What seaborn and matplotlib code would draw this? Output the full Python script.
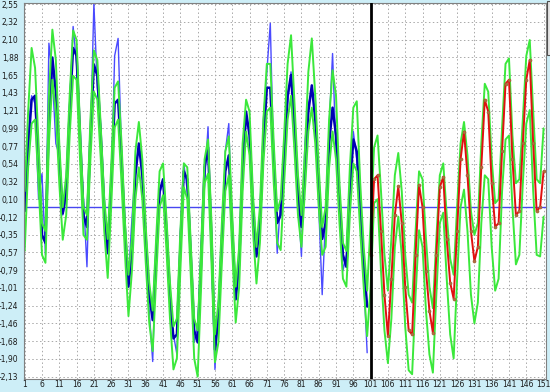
import numpy as np
import pandas as pd
import matplotlib
matplotlib.use("Agg")
import matplotlib.pyplot as plt
import seaborn as sns
from matplotlib.patches import Rectangle

# ---------------- data ----------------
actual = [
    0.05, 0.90, 1.40, 1.30, 0.10, 0.42, -0.60, 2.06, 1.65, 0.80,
    0.65, -0.10, 0.10, 1.30, 2.27, 1.80, 0.80, 0.10, -0.75, 0.80,
    2.56, 1.50, 1.00, -0.10, -0.55, 0.20, 1.90, 2.12, 0.70, -0.40,
    -0.90, -0.15, 0.50, 0.75, 0.50, -0.60, -1.30, -1.94, -0.50, 0.15,
    0.35, -0.40, -1.30, -1.60, -1.85, -0.30, 0.55, 0.20, -0.70, -1.70,
    -1.50, -0.50, 0.30, 1.01, -0.60, -2.04, -1.20, -0.60, 0.70, 1.05,
    -0.40, -1.10, -0.80, 0.60, 1.05, 1.00, -0.10, -0.50, -0.30, 1.10,
    1.70, 2.31, 0.50, -0.58, 0.10, 0.40, 1.30, 1.70, 1.20, 0.10,
    -0.62, 0.80, 1.30, 1.45, 1.40, 0.00, -1.10, -0.10, 1.00, 1.93,
    0.70, 0.20, -0.80, -0.60, 0.30, 0.95, 0.60, -0.10, -0.90, -1.83,
]

fitted = [
    -0.05, 0.75, 1.35, 1.40, 0.60, -0.35, -0.45, 1.10, 1.88, 1.45,
    0.60, -0.08, 0.20, 1.20, 2.00, 1.90, 0.90, -0.10, -0.25, 0.90,
    1.79, 1.65, 0.90, 0.00, -0.58, 0.30, 1.30, 1.35, 0.60, -0.30,
    -1.00, -0.55, 0.40, 0.80, 0.40, -0.40, -1.10, -1.42, -0.60, 0.20,
    0.35, -0.30, -1.10, -1.65, -1.60, -0.50, 0.45, 0.35, -0.60, -1.55,
    -1.70, -0.70, 0.50, 0.75, -0.40, -1.79, -1.40, -0.40, 0.45, 0.65,
    -0.30, -1.16, -0.70, 0.50, 1.20, 0.90, 0.00, -0.62, -0.20, 0.80,
    1.50, 1.50, 0.60, -0.20, -0.10, 0.60, 1.40, 1.66, 1.00, 0.20,
    -0.25, 0.45, 1.20, 1.53, 1.10, 0.30, -0.40, -0.20, 0.80, 1.25,
    0.90, 0.10, -0.60, -0.75, 0.20, 0.85, 0.70, 0.00, -0.70, -1.25,
]

upper = [
    0.20, 1.20, 2.00, 1.75, 0.80, -0.20, -0.30, 1.40, 2.23, 1.85,
    0.80, 0.00, 0.40, 1.40, 2.22, 2.10, 1.00, 0.00, -0.10, 1.10,
    1.97, 1.85, 1.00, 0.10, -0.40, 0.50, 1.50, 1.58, 0.80, -0.20,
    -0.85, -0.40, 0.70, 1.07, 0.60, -0.25, -0.95, -1.30, -0.40, 0.45,
    0.55, -0.15, -0.95, -1.50, -1.40, -0.30, 0.55, 0.50, -0.45, -1.40,
    -1.55, -0.50, 0.60, 0.85, -0.20, -1.60, -1.20, -0.20, 0.70, 0.89,
    -0.10, -1.00, -0.50, 0.80, 1.35, 1.20, 0.15, -0.50, 0.00, 1.10,
    1.80, 1.80, 0.80, -0.05, 0.10, 0.90, 1.80, 2.16, 1.30, 0.40,
    -0.10, 0.70, 1.70, 2.12, 1.40, 0.50, -0.25, 0.00, 1.10, 1.72,
    1.40, 0.30, -0.45, -0.55, 0.50, 1.25, 1.33, 0.30, -0.50, -1.05,
    -0.20, 0.75, 0.90, 0.20, -0.60, -1.05, -0.40, 0.40, 0.68, 0.20,
    -0.60, -1.10, -1.20, -0.30, 0.45, 0.35, -0.40, -1.00, -1.27, -0.40,
    0.40, 0.55, -0.10, -0.65, -0.85, 0.00, 0.80, 1.07, 0.65, -0.05,
    -0.35, -0.20, 0.80, 1.55, 1.45, 0.60, 0.05, 0.10, 1.00, 1.80,
    1.87, 0.90, 0.30, 0.35, 1.10, 1.90, 2.10, 1.20, 0.35, 0.30,
    0.99,
]

lower = [
    -0.55, 0.50, 1.05, 1.10, 0.30, -0.60, -0.70, 0.80, 1.60, 1.20,
    0.30, -0.41, -0.10, 0.90, 1.65, 1.60, 0.60, -0.35, -0.41, 0.60,
    1.45, 1.35, 0.60, -0.30, -0.89, 0.00, 1.00, 1.10, 0.30, -0.60,
    -1.37, -0.80, 0.10, 0.50, 0.10, -0.70, -1.45, -1.81, -0.90, 0.00,
    0.15, -0.55, -1.40, -2.04, -1.90, -0.80, 0.25, 0.10, -0.85, -1.90,
    -2.13, -1.00, 0.30, 0.42, -0.70, -1.95, -1.70, -0.70, 0.20, 0.40,
    -0.55, -1.45, -1.00, 0.20, 0.95, 0.65, -0.30, -0.96, -0.45, 0.55,
    1.20, 1.25, 0.30, -0.45, -0.54, 0.30, 1.10, 1.40, 0.70, -0.10,
    -0.50, 0.20, 0.95, 1.25, 0.80, 0.00, -0.60, -0.50, 0.50, 0.95,
    0.60, -0.20, -0.90, -1.00, -0.10, 0.55, 0.45, -0.30, -1.00, -1.62,
    -1.00, 0.05, 0.10, -0.80, -1.55, -1.96, -1.40, -0.50, -0.12, -0.60,
    -1.50, -2.05, -2.10, -1.10, -0.29, -0.50, -1.30, -1.85, -2.08, -1.10,
    -0.20, -0.07, -0.90, -1.60, -1.90, -0.90, 0.00, 0.22, -0.30, -1.10,
    -1.46, -1.20, -0.20, 0.40, 0.35, -0.50, -1.05, -0.90, 0.20, 0.85,
    0.90, 0.00, -0.72, -0.60, 0.30, 1.05, 1.22, 0.20, -0.60, -0.62,
    -0.12,
]

forecast = [
    -0.60, 0.35, 0.40, -0.30, -1.10, -1.62, -0.90, -0.10, 0.26, -0.20,
    -1.00, -1.55, -1.60, -0.60, 0.28, 0.00, -0.80, -1.30, -1.58, -0.60,
    0.25, 0.38, -0.40, -0.95, -1.15, -0.30, 0.60, 0.95, 0.40, -0.30,
    -0.68, -0.50, 0.50, 1.35, 1.20, 0.30, -0.25, -0.20, 0.70, 1.55,
    1.60, 0.60, -0.10, -0.05, 0.80, 1.60, 1.85, 0.80, -0.05, 0.00,
    0.45,
]

x_hist = list(range(1, 101))
x_all = list(range(1, 152))
x_fc = list(range(101, 152))
split_x = 101

y_tick_labels = ["-2,13", "-1,90", "-1,68", "-1,46", "-1,24", "-1,01", "-0,79",
                 "-0,57", "-0,35", "-0,12", "0,10", "0,32", "0,54", "0,77",
                 "0,99", "1,21", "1,43", "1,65", "1,88", "2,10", "2,32", "2,55"]
x_tick_labels = ["1", "6", "11", "16", "21", "26", "31", "36", "41", "46", "51",
                 "56", "61", "66", "71", "76", "81", "86", "91", "96", "101",
                 "106", "111", "116", "121", "126", "131", "136", "141", "146", "151"]

# ---------------- figure ----------------
sns.set_style("white")
plt.rcParams['font.family'] = ['DejaVu Sans']

fig = plt.figure(figsize=(5.5, 3.92), dpi=100, facecolor='#cdeef7')
ax = fig.add_axes([24 / 550, 1 - 379 / 392, 522 / 550, 376 / 392])
ax.set_facecolor('white')

df_hist = pd.DataFrame({'x': x_hist, 'actual': actual, 'fitted': fitted})
df_all = pd.DataFrame({'x': x_all, 'upper': upper, 'lower': lower})
df_fc = pd.DataFrame({'x': x_fc, 'forecast': forecast})

sns.lineplot(data=df_hist, x='x', y='actual', ax=ax, color='#4a4aff', linewidth=1.0)
sns.lineplot(data=df_hist, x='x', y='fitted', ax=ax, color='#0000b4', linewidth=1.8)
sns.lineplot(data=df_all, x='x', y='upper', ax=ax, color='#3be83b', linewidth=1.4)
sns.lineplot(data=df_all, x='x', y='lower', ax=ax, color='#3be83b', linewidth=1.4)
sns.lineplot(data=df_fc, x='x', y='forecast', ax=ax, color='#e01010', linewidth=1.4,
             marker='o', markersize=2.2, markerfacecolor='#b07040',
             markeredgecolor='#a05a30', markeredgewidth=0.4)

ax.axhline(0, color='#4646f0', linewidth=1.0, zorder=1.5)
ax.axvline(split_x, color='black', linewidth=2.0, zorder=5)

# axes / ticks
y_pos = np.linspace(-2.13, 2.55, len(y_tick_labels))
x_pos = [int(s) for s in x_tick_labels]
ax.set_xlim(0.8, 151.7)
ax.set_ylim(-2.16, 2.565)
ax.set_yticks(y_pos)
ax.set_yticklabels(y_tick_labels)
ax.set_xticks(x_pos)
ax.set_xticklabels(x_tick_labels)
ax.tick_params(axis='both', length=0, labelsize=5.5, colors='#1a1a1a')
ax.tick_params(axis='y', pad=4)
ax.tick_params(axis='x', pad=1)
ax.set_xlabel('')
ax.set_ylabel('')
ax.grid(True, color='#a8a8a8', linestyle=(0, (1.5, 2.5)), linewidth=0.7)
ax.set_axisbelow(True)
for s in ax.spines.values():
    s.set_color('#808080')
    s.set_linewidth(0.8)

# partially visible legend box at the right edge
fig.patches.append(Rectangle((547 / 550, 1 - 55 / 392), 5 / 550, 54 / 392,
                             transform=fig.transFigure, facecolor='#e4e4e4',
                             edgecolor='#505050', linewidth=0.8))

fig.savefig('out.png', dpi=100, facecolor=fig.get_facecolor())
